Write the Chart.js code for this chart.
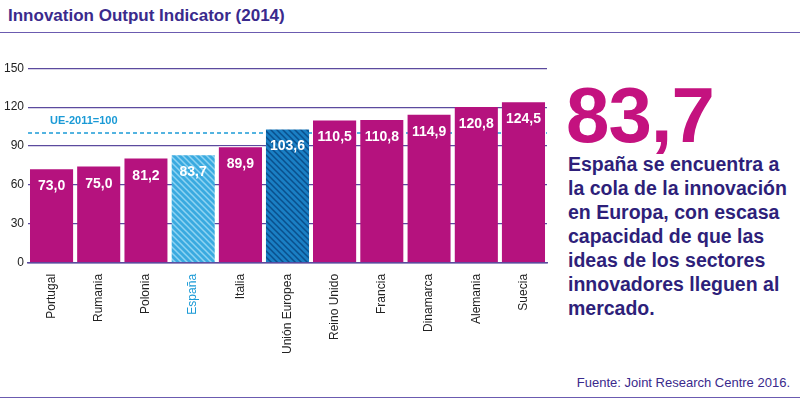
<!DOCTYPE html>
<html><head><meta charset="utf-8">
<script src="https://cdn.jsdelivr.net/npm/chart.js@4"></script>
<style>
body{margin:0;width:800px;height:402px;background:#fff;font-family:"Liberation Sans",Arial,sans-serif;position:relative;overflow:hidden}
#title{position:absolute;left:8px;top:6px;font:bold 17px "Liberation Sans",Arial;color:#3a2a8c}
.rule{position:absolute;left:0;width:800px;height:1px;background:#6b5bb0}
#big{position:absolute;left:566px;top:70px;font:bold 78px "Liberation Sans",Arial;color:#c4127f;letter-spacing:-1px}
#txt{position:absolute;left:568px;top:152px;width:225px;font:bold 19.5px/24px "Liberation Sans",Arial;color:#2e1f7a}
#src{position:absolute;right:10px;top:375px;font:13px "Liberation Sans",Arial;color:#3a2a8c}
#wrap{position:absolute;left:0;top:57px;width:560px;height:300px}
</style></head><body>
<div id="title">Innovation Output Indicator (2014)</div>
<div class="rule" style="top:32px"></div>
<div class="rule" style="top:397px"></div>
<div id="big">83,7</div>
<div id="txt">España se encuentra a la cola de la innovación en Europa, con escasa capacidad de que las ideas de los sectores innovadores lleguen al mercado.</div>
<div id="src">Fuente: Joint Research Centre 2016.</div>
<div id="wrap"><canvas id="c"></canvas></div>
<script>
const countries = ["Portugal","Rumania","Polonia","España","Italia","Unión Europea","Reino Unido","Francia","Dinamarca","Alemania","Suecia"];
const values = [73.0,75.0,81.2,83.7,89.9,103.6,110.5,110.8,114.9,120.8,124.5];
const yTicks = [0,30,60,90,120,150];
const refValue = 100;

function hatch(bg, fg){
  const p = document.createElement("canvas"); p.width = 6; p.height = 6;
  const g = p.getContext("2d");
  g.fillStyle = bg; g.fillRect(0,0,6,6);
  g.strokeStyle = fg; g.lineWidth = 1.5;
  g.beginPath(); g.moveTo(0,0); g.lineTo(6,6); g.moveTo(-3,3); g.lineTo(3,9); g.moveTo(3,-3); g.lineTo(9,3); g.stroke();
  return g.createPattern(p,"repeat");
}
const colors = countries.map(c => c === "España" ? hatch("#3aaae0","#8fd3f2") : c === "Unión Europea" ? hatch("#1a7fc4","#0a4f8c") : "#b5127e");

const overlay = {
  id: "overlay",
  beforeDatasetsDraw(chart){
    const {ctx, scales:{y}, chartArea:a} = chart;
    const yy = y.getPixelForValue(refValue);
    ctx.save();
    ctx.strokeStyle = "#1a9ad6"; ctx.lineWidth = 1.5; ctx.setLineDash([4,3]);
    ctx.beginPath(); ctx.moveTo(a.left, yy); ctx.lineTo(a.right, yy); ctx.stroke();
    ctx.setLineDash([]);
    ctx.fillStyle = "#1a9ad6"; ctx.font = "bold 11px 'Liberation Sans', Arial";
    ctx.fillText("UE-2011=100", a.left + 22, yy - 9);
    ctx.restore();
  },
  afterDatasetsDraw(chart){
    const {ctx} = chart;
    ctx.save();
    ctx.fillStyle = "#fff"; ctx.font = "bold 14px 'Liberation Sans', Arial"; ctx.textAlign = "center";
    chart.getDatasetMeta(0).data.forEach((b, i) => {
      ctx.fillText(values[i].toFixed(1).replace(".", ","), b.x, b.y + 22);
    });
    ctx.restore();
  }
};

new Chart(document.getElementById("c"), {
  type: "bar",
  data: { labels: countries, datasets: [{ data: values, backgroundColor: colors, borderColor: "#fff", borderWidth: {top:1,left:0,right:0,bottom:0}, categoryPercentage: 0.92, barPercentage: 1 }] },
  options: {
    responsive: true, maintainAspectRatio: false, animation: false,
    layout: { padding: { left: 0, right: 13, top: 10 } },
    plugins: { legend: { display: false }, tooltip: { enabled: false } },
    scales: {
      x: {
        grid: { display: false }, border: { color: "#5b4a9e", width: 1.5 },
        ticks: { maxRotation: 90, minRotation: 90, font: { size: 12, family: "Liberation Sans" },
          color: ctx => countries[ctx.index] === "España" ? "#1a9ad6" : "#222" }
      },
      y: {
        min: 0, max: 150, afterBuildTicks: ax => { ax.ticks = yTicks.map(v => ({ value: v })); },
        grid: { color: "#5b4a9e", lineWidth: 1.2, drawTicks: false }, border: { display: false },
        ticks: { padding: 4, font: { size: 12, family: "Liberation Sans" }, color: "#222" }
      }
    }
  },
  plugins: [overlay]
});
</script>
</body></html>
